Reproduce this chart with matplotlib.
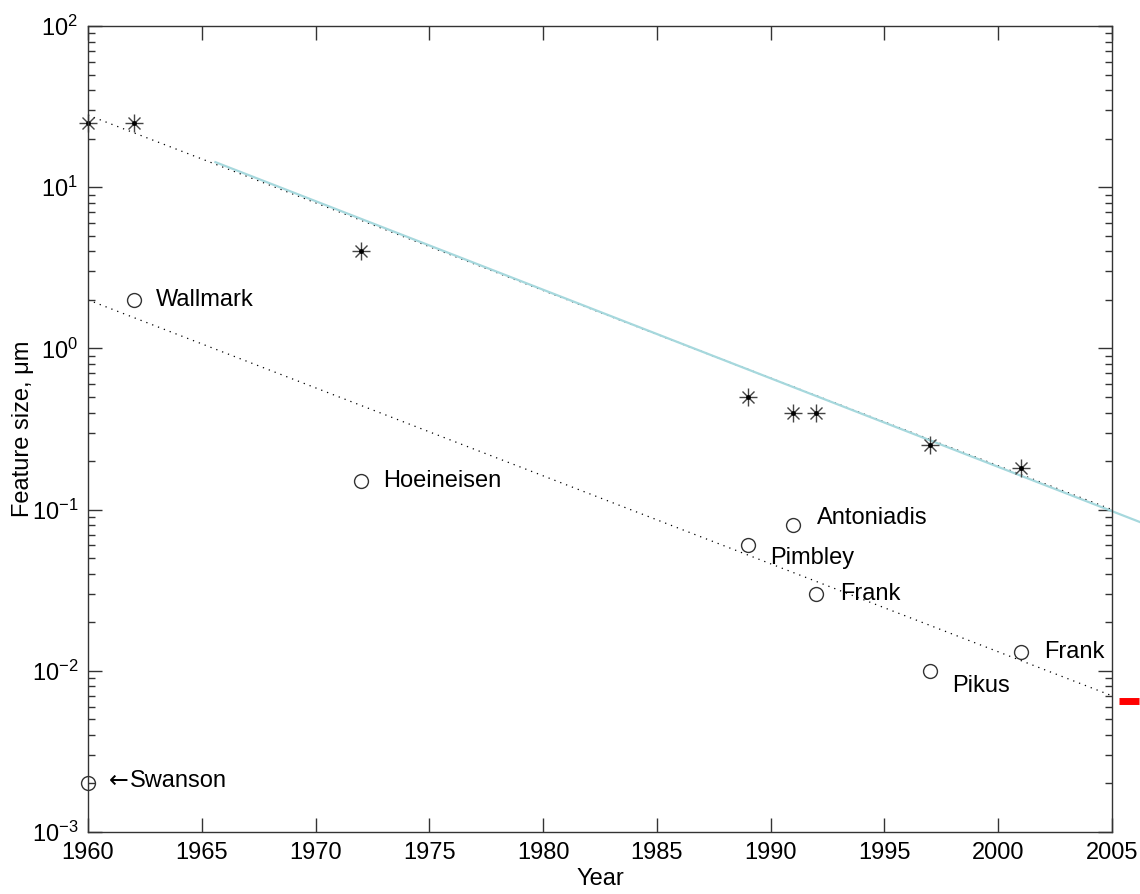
import numpy as np
import matplotlib
matplotlib.use('Agg')
import matplotlib.pyplot as plt
from matplotlib.ticker import LogLocator, NullFormatter

plt.rcParams['font.family'] = ['Liberation Sans', 'DejaVu Sans']
plt.rcParams['mathtext.default'] = 'regular'
plt.rcParams['font.size'] = 17

# production feature size (stars)
prod_years = [1960, 1962, 1972, 1989, 1991, 1992, 1997, 2001]
prod_size = [25, 25, 4, 0.5, 0.4, 0.4, 0.25, 0.18]

# smallest reported devices (circles)
dev_years = [1960, 1962, 1972, 1989, 1991, 1992, 1997, 2001]
dev_size = [0.002, 2, 0.15, 0.06, 0.08, 0.03, 0.01, 0.013]
dev_names = ['Swanson', 'Wallmark', 'Hoeineisen', 'Pimbley', 'Antoniadis',
             'Frank', 'Pikus', 'Frank']

# trend lines
trend_years = [1960, 2005]
trend_prod = [28, 0.1]
trend_dev = [2.0, 0.007]
roadmap_years = [1965.6, 2006.2]
roadmap_size = [14.3, 0.084]
limit_years = [2005.3, 2006.2]
limit_size = [0.0065, 0.0065]

fig = plt.figure(figsize=(11.4, 8.94), dpi=100)
ax = fig.add_axes([88/1140, 62/894, 1024/1140, 806/894])

ax.plot(trend_years, trend_prod, color='k', linestyle=(0, (1, 4)), lw=0.9)
ax.plot(trend_years, trend_dev, color='k', linestyle=(0, (1, 4)), lw=0.9)
ax.plot(roadmap_years, roadmap_size, color='#a6d8dd', lw=1.6, clip_on=False)
ax.plot(limit_years, limit_size, color='red', lw=5, solid_capstyle='butt', clip_on=False)

ax.plot(prod_years, prod_size, linestyle='none', marker='+', ms=13, mew=1.0, color='#444444', clip_on=False)
ax.plot(prod_years, prod_size, linestyle='none', marker='x', ms=9, mew=1.0, color='#444444', clip_on=False)
ax.plot(prod_years, prod_size, linestyle='none', marker='.', ms=5, color='k', clip_on=False)

ax.plot(dev_years, dev_size, linestyle='none', marker='o', ms=10, mfc='none',
        mec='#333333', mew=1.0, clip_on=False)

offsets = [(30, 2), (16, 0), (16, 0), (16, -9), (17, 5), (17, 0), (16, -11), (17, 0)]
for yr, sz, name, off in zip(dev_years, dev_size, dev_names, offsets):
    ax.annotate(name, (yr, sz), xytext=off, textcoords='offset points',
                ha='left', va='center', fontsize=17)

# arrow pointing at the Swanson point
ax.annotate('\u2190', (dev_years[0], dev_size[0]), xytext=(15, 2), textcoords='offset points',
            ha='left', va='center', fontsize=17, family=['DejaVu Sans'])

ax.set_yscale('log')
ax.set_xlim(1960, 2005)
ax.set_ylim(1e-3, 1e2)
ax.set_xticks(np.arange(1960, 2006, 5))
ax.yaxis.set_major_locator(LogLocator(base=10, numticks=10))
ax.yaxis.set_minor_locator(LogLocator(base=10, subs=np.arange(2, 10), numticks=20))
ax.yaxis.set_minor_formatter(NullFormatter())

ax.tick_params(which='both', direction='in', top=True, right=True, color='#333333')
ax.tick_params(which='major', length=10, width=1, labelsize=17, pad=7)
ax.tick_params(which='minor', length=5, width=1)
for s in ax.spines.values():
    s.set_color('#333333')
    s.set_linewidth(1.0)

ax.set_xlabel('Year', fontsize=17, labelpad=3)
ax.set_ylabel('Feature size, \u03bcm', fontsize=17, labelpad=-2)

fig.savefig('out.png', dpi=100)
